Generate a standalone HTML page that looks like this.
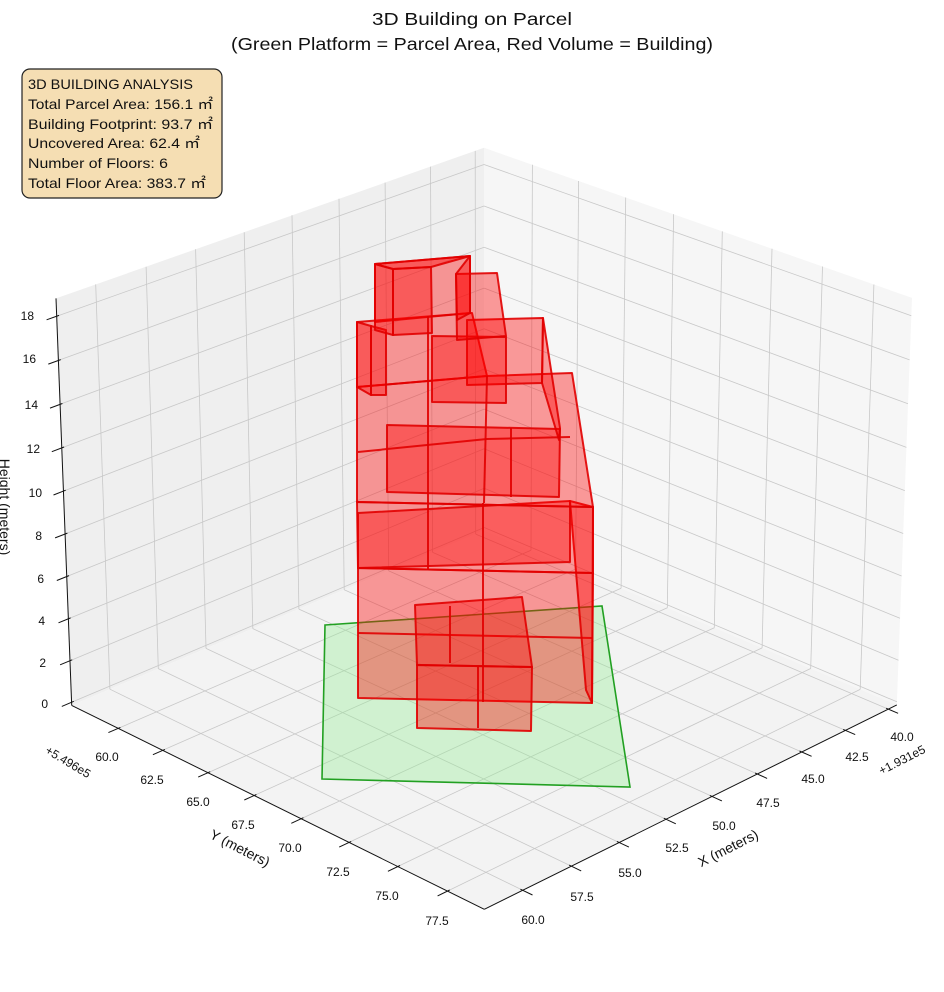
<!DOCTYPE html>
<html><head><meta charset="utf-8">
<style>
html,body{margin:0;padding:0;background:#fff;}
svg{display:block;font-family:"Liberation Sans","DejaVu Sans",sans-serif;}
</style></head>
<body>
<svg id="s" width="944" height="992" viewBox="0 0 944 992" xmlns="http://www.w3.org/2000/svg">
<g id="bg"></g>
<polygon points="325,625 602,606 630,787 322,779" fill="rgba(144,238,144,0.35)" stroke="#22a022" stroke-width="1.6"/>
<g id="bld" fill="rgba(255,0,0,0.38)" stroke="rgba(225,0,0,0.9)" stroke-width="2" stroke-linejoin="round">
<polygon points="358,568 593,573 592,703 358,698"/>
<polyline fill="none" points="358,633 592,638"/>
<polygon points="415,605 522,597 532,667 417,665"/>
<polygon points="417,665 532,667 531,731 417,728"/>
<polyline fill="none" points="450,606 450,663"/>
<polyline fill="none" points="478,666 478,728"/>
<polygon points="570,501 593,507 592,703 586,690"/>
<polygon points="357,502 593,507 593,573 358,568"/>
<polygon points="358,513 570,501 570,562 358,568"/>
<polygon points="357,387 487,376 572,373 593,507 357,502"/>
<polygon points="387,425 560,429 559,497 387,492"/>
<polyline fill="none" points="358,452 487,439 570,437"/>
<polyline fill="none" points="511,428 511,497"/>
<polygon points="357,322 472,313 487,376 357,387"/>
<polygon points="357,322 371,326 371,395 357,387"/>
<polygon points="371,326 386,330 386,395 371,395"/>
<polygon points="467,320 543,318 542,383 467,385"/>
<polygon points="543,318 560,428 559,440 542,383"/>
<polygon points="432,336 506,337 506,403 432,402"/>
<polygon points="375,264 470,256 470,313 375,322"/>
<polygon points="375,264 393,269 393,335 375,330"/>
<polygon points="393,269 431,267 432,333 393,335"/>
<polygon points="375,264 470,256 431,267 393,269"/>
<polygon points="456,274 497,273 506,336 457,340"/>
<polygon points="456,274 470,256 470,313 457,320"/>
<polyline fill="none" points="428,316 428,570"/>
<polyline fill="none" points="487,376 484,503"/>
<polyline fill="none" points="483,503 483,702"/>
</g>
<text x="472" y="25" font-size="17.5" text-anchor="middle" fill="#111" textLength="200" lengthAdjust="spacingAndGlyphs">3D Building on Parcel</text>
<text x="472" y="50" font-size="17.5" text-anchor="middle" fill="#111" textLength="482" lengthAdjust="spacingAndGlyphs">(Green Platform = Parcel Area, Red Volume = Building)</text>
<rect x="22" y="69" width="200" height="129" rx="8" ry="8" fill="#f5deb3" stroke="#222" stroke-width="1.2"/>
<g font-size="14" fill="#111">
<text x="28" y="89" textLength="165" lengthAdjust="spacingAndGlyphs">3D BUILDING ANALYSIS</text>
<text x="28" y="109" textLength="185" lengthAdjust="spacingAndGlyphs">Total Parcel Area: 156.1 ㎡</text>
<text x="28" y="129" textLength="185" lengthAdjust="spacingAndGlyphs">Building Footprint: 93.7 ㎡</text>
<text x="28" y="148" textLength="172" lengthAdjust="spacingAndGlyphs">Uncovered Area: 62.4 ㎡</text>
<text x="28" y="168" textLength="140" lengthAdjust="spacingAndGlyphs">Number of Floors: 6</text>
<text x="28" y="188" textLength="178" lengthAdjust="spacingAndGlyphs">Total Floor Area: 383.7 ㎡</text>
</g>
<g font-size="12" fill="#111" text-anchor="end">
<text x="34" y="320">18</text><text x="36" y="363">16</text><text x="38" y="409">14</text>
<text x="40" y="453">12</text><text x="42" y="497">10</text><text x="42" y="540">8</text>
<text x="44" y="583">6</text><text x="45" y="625">4</text><text x="46" y="667">2</text><text x="48" y="708">0</text>
</g>
<text transform="translate(5,507) rotate(90)" font-size="14" text-anchor="middle" dominant-baseline="central" fill="#111">Height (meters)</text>
<g font-size="12" fill="#111" text-anchor="middle">
<text x="107" y="761">60.0</text><text x="152" y="784">62.5</text><text x="198" y="806">65.0</text>
<text x="243" y="829">67.5</text><text x="290" y="852">70.0</text><text x="338" y="876">72.5</text>
<text x="387" y="900">75.0</text><text x="437" y="925">77.5</text>
<text x="902" y="741">40.0</text><text x="857" y="761">42.5</text><text x="813" y="783">45.0</text>
<text x="768" y="807">47.5</text><text x="724" y="830">50.0</text><text x="677" y="852">52.5</text>
<text x="630" y="877">55.0</text><text x="582" y="901">57.5</text><text x="533" y="924">60.0</text>
</g>
<text transform="translate(68,762) rotate(31)" font-size="12" text-anchor="middle" dominant-baseline="central" fill="#111">+5.496e5</text>
<text transform="translate(902,760) rotate(-27)" font-size="12" text-anchor="middle" dominant-baseline="central" fill="#111">+1.931e5</text>
<text transform="translate(240,848) rotate(27)" font-size="14" text-anchor="middle" dominant-baseline="central" fill="#111">Y (meters)</text>
<text transform="translate(728,848) rotate(-27)" font-size="14" text-anchor="middle" dominant-baseline="central" fill="#111">X (meters)</text>
</svg>
<script>
(function(){
var pts=[[0,0,0,484,530],[1,0,0,72,706],[1,1,0,484,909],[0,1,0,897,705],[0,0,1,484,148],[1,0,1,56,298],[0,1,1,912,298]];
var A=[],b=[];
pts.forEach(function(p){var u=p[0],v=p[1],w=p[2],X=p[3],Y=p[4];
A.push([u,v,w,1,0,0,0,0,-X*u,-X*v,-X*w]);b.push(X);
A.push([0,0,0,0,u,v,w,1,-Y*u,-Y*v,-Y*w]);b.push(Y);});
var n=11,M=[];
for(var i=0;i<n;i++){M.push([]);for(var j=0;j<=n;j++){var s=0;for(var k=0;k<A.length;k++)s+=A[k][i]*(j<n?A[k][j]:b[k]);M[i].push(s);}}
for(i=0;i<n;i++){var mx=i;for(j=i+1;j<n;j++)if(Math.abs(M[j][i])>Math.abs(M[mx][i]))mx=j;var t=M[i];M[i]=M[mx];M[mx]=t;
for(j=0;j<n;j++){if(j==i)continue;var f=M[j][i]/M[i][i];for(k=i;k<=n;k++)M[j][k]-=f*M[i][k];}}
var p=[];for(i=0;i<n;i++)p.push(M[i][n]/M[i][i]);
function P(u,v,w){var d=p[8]*u+p[9]*v+p[10]*w+1;return[(p[0]*u+p[1]*v+p[2]*w+p[3])/d,(p[4]*u+p[5]*v+p[6]*w+p[7])/d];}
var xmin=39.5,xmax=61.94,ymin=57.34,ymax=79.32,zmin=-0.15,zmax=18.8;
function U(x){return(x-xmin)/(xmax-xmin);}function V(y){return(y-ymin)/(ymax-ymin);}function W(z){return(z-zmin)/(zmax-zmin);}
var h='';
function poly(a,fill){h+='<polygon points="'+a.map(function(q){var r=P(q[0],q[1],q[2]);return r[0].toFixed(1)+','+r[1].toFixed(1);}).join(' ')+'" fill="'+fill+'"/>';}
function line(a,c,sw){var r1=P(a[0],a[1],a[2]),r2=P(a[3],a[4],a[5]);h+='<line x1="'+r1[0].toFixed(1)+'" y1="'+r1[1].toFixed(1)+'" x2="'+r2[0].toFixed(1)+'" y2="'+r2[1].toFixed(1)+'" stroke="'+c+'" stroke-width="'+sw+'"/>';}
poly([[0,0,0],[1,0,0],[1,0,1],[0,0,1]],'#efefef');
poly([[0,0,0],[0,1,0],[0,1,1],[0,0,1]],'#f6f6f6');
poly([[0,0,0],[1,0,0],[1,1,0],[0,1,0]],'#f3f3f3');
var g='#c8c8c8',gw=0.8,x,y,z;
for(x=40;x<=60.01;x+=2.5){line([U(x),0,0,U(x),0,1],g,gw);line([U(x),0,0,U(x),1,0],g,gw);}
for(y=60;y<=77.51;y+=2.5){line([0,V(y),0,0,V(y),1],g,gw);line([0,V(y),0,1,V(y),0],g,gw);}
for(z=0;z<=18;z+=2){line([0,0,W(z),1,0,W(z)],g,gw);line([0,0,W(z),0,1,W(z)],g,gw);}
var k2='#111';
line([1,0,0,1,1,0],k2,1);line([0,1,0,1,1,0],k2,1);line([1,0,0,1,0,1],k2,1);
for(x=40;x<=60.01;x+=2.5)line([U(x),0.995,0,U(x),1.022,0],k2,1);
for(y=60;y<=77.51;y+=2.5)line([0.995,V(y),0,1.022,V(y),0],k2,1);
for(z=0;z<=18;z+=2)line([0.995,0,W(z),1.022,0,W(z)],k2,1);
document.getElementById('bg').innerHTML=h;
})();
</script>
</body></html>
